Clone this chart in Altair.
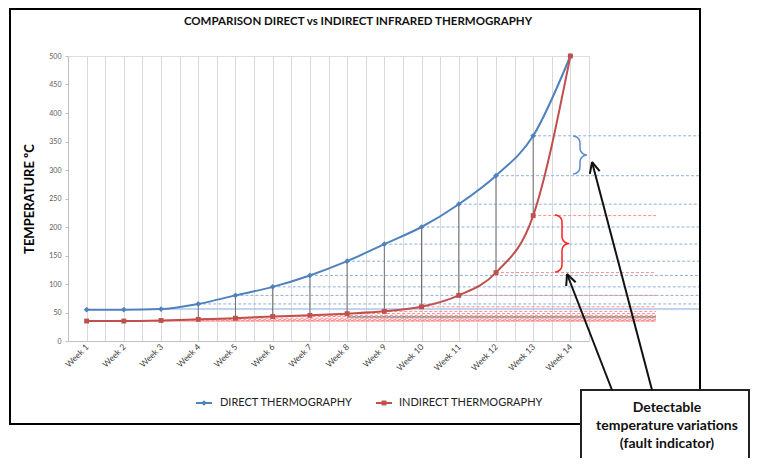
import json
import math
import altair as alt
import pandas as pd

# ---------------- data ----------------
weeks = list(range(1, 15))
week_labels = [f"Week {i}" for i in weeks]
direct = [55, 55, 56, 65, 80, 95, 115, 140, 170, 200, 240, 290, 360, 500]
indirect = [35, 35, 36, 38, 40, 43, 45, 48, 52, 60, 80, 120, 220, 500]
y_ticks = list(range(0, 501, 50))
series_names = ["DIRECT THERMOGRAPHY", "INDIRECT THERMOGRAPHY"]
note_lines = ["Detectable", "temperature variations", "(fault indicator)"]

# guide lines (dashed level markers) start at these weeks
blue_guide_weeks = list(range(4, 14))
red_guide_weeks = list(range(1, 14))
connector_weeks = list(range(4, 14))
baseline_level = 42

# ---------------- layout / style constants ----------------
W, H = 521, 285
PAD = {"left": 60, "top": 48, "right": 162, "bottom": 117}
OX, OY = 68, 56  # page position of plot origin
BLUE = "#4f81bd"
RED = "#c0504d"
BLUE_END = 17.5
RED_END = 16.3
FONT = "Lato"

xscale = alt.Scale(domain=[0.5, 14.5], nice=False, zero=False)
yscale = alt.Scale(domain=[0, 500], nice=False)
half_steps = [0.5 + 0.5 * i for i in range(29)]
label_expr = f"datum.value % 1 == 0 ? {json.dumps(week_labels)}[datum.value - 1] : ''"
xaxis = alt.Axis(values=half_steps, labelExpr=label_expr, grid=True, gridColor="#d9d9d9",
                 gridWidth=1, ticks=False, labelAngle=-45, labelAlign="right",
                 labelBaseline="middle", labelPadding=4, labelOverlap=False, labelFlush=False,
                 labelFontSize=8.5, labelColor="#404040", labelFont=FONT,
                 domainColor="#bfbfbf", title=None)
yaxis = alt.Axis(values=y_ticks, grid=False, labelFontSize=7, labelColor="#595959",
                 labelFont=FONT, tickSize=3, tickColor="#bfbfbf", domainColor="#bfbfbf",
                 labelPadding=4, title="TEMPERATURE ºC", titleFont=FONT, titleFontSize=13,
                 titleFontWeight="bold", titleColor="black", titlePadding=12)


def X(field):
    return alt.X(field, type="quantitative", scale=xscale, axis=xaxis)


def Y(field):
    return alt.Y(field, type="quantitative", scale=yscale, axis=yaxis)


df = pd.DataFrame({"week": weeks, "direct": direct, "indirect": indirect})
long = pd.DataFrame({
    "week": weeks + weeks,
    "value": direct + indirect,
    "series": [series_names[0]] * 14 + [series_names[1]] * 14,
})

# guide lines
blue_g = pd.DataFrame({"x": blue_guide_weeks,
                       "x2": [BLUE_END] * len(blue_guide_weeks),
                       "y": [direct[w - 1] for w in blue_guide_weeks]})
red_g = pd.DataFrame({"x": red_guide_weeks,
                      "x2": [RED_END] * len(red_guide_weeks),
                      "y": [indirect[w - 1] for w in red_guide_weeks]})
solid_g = pd.DataFrame({"x": [3], "x2": [BLUE_END], "y": [direct[2]]})
base_g = pd.DataFrame({"x": [8], "x2": [RED_END], "y": [baseline_level]})
conn = pd.DataFrame({"x": connector_weeks,
                     "y": [indirect[w - 1] for w in connector_weeks],
                     "y2": [direct[w - 1] for w in connector_weeks]})

blue_layer = alt.Chart(blue_g).mark_rule(color="#8fb0dc", strokeDash=[3, 2], strokeWidth=1).encode(
    x=X("x"), x2="x2", y=Y("y"))
red_layer = alt.Chart(red_g).mark_rule(color="#ff8a8a", strokeDash=[3, 2], strokeWidth=1).encode(
    x=X("x"), x2="x2", y=Y("y"))
solid_layer = alt.Chart(solid_g).mark_rule(color="#a9c6ea", strokeWidth=1.5).encode(
    x=X("x"), x2="x2", y=Y("y"))
base_layer = alt.Chart(base_g).mark_rule(color="#707070", strokeWidth=1).encode(
    x=X("x"), x2="x2", y=Y("y"))
conn_layer = alt.Chart(conn).mark_rule(color="#707070", strokeWidth=1).encode(
    x=X("x"), y=Y("y"), y2="y2")

color_scale = alt.Scale(domain=series_names, range=[BLUE, RED])
lines = alt.Chart(long).mark_line(interpolate="monotone", strokeWidth=2).encode(
    x=X("week"), y=Y("value"),
    color=alt.Color("series:N", scale=color_scale, legend=None))
pts_d = alt.Chart(df).mark_point(shape="diamond", filled=True, size=32, color=BLUE, opacity=1).encode(
    x=X("week"), y=Y("direct"))
pts_i = alt.Chart(df).mark_point(shape="square", filled=True, size=24, color=RED, opacity=1).encode(
    x=X("week"), y=Y("indirect"))


# braces (annotation shapes): built in page pixels, converted to data units
def to_data(pxx, pyy):
    return (pxx - OX) / (W / 14) + 0.5, (OY + H - pyy) / H * 500


def brace(xl, r, T, B):
    M = (T + B) / 2
    xm = xl + r
    pts = []
    n = 6
    for k in range(n + 1):
        t = math.radians(90 * k / n)
        pts.append((xl + r * math.sin(t), T + r - r * math.cos(t)))
    for k in range(n + 1):
        t = math.radians(90 * k / n)
        pts.append((xm + r - r * math.cos(t), M - r + r * math.sin(t)))
    for k in range(n + 1):
        t = math.radians(90 - 90 * k / n)
        pts.append((xm + r - r * math.cos(t), M + r - r * math.sin(t)))
    for k in range(n + 1):
        t = math.radians(90 * k / n)
        pts.append((xl + r * math.cos(t), B - r + r * math.sin(t)))
    xs, ys = zip(*[to_data(a, b) for a, b in pts])
    return pd.DataFrame({"bx": xs, "by": ys, "i": list(range(len(pts)))})


brace_b = alt.Chart(brace(573, 7, 136, 174)).mark_line(color="#5b8bd0", strokeWidth=1.5).encode(
    x=X("bx"), y=Y("by"), order="i:Q")
brace_r = alt.Chart(brace(555, 7, 215, 272)).mark_line(color="#ff2020", strokeWidth=1.5).encode(
    x=X("bx"), y=Y("by"), order="i:Q")

one = pd.DataFrame({"a": [0]})


def px(v):
    return alt.value(v - OX)


def py(v):
    return alt.value(v - OY)


frame = alt.Chart(one).mark_rect(fillOpacity=0, stroke="black", strokeWidth=2).encode(
    x=px(10), x2=px(700), y=py(9), y2=py(424))
box = alt.Chart(one).mark_rect(fill="white", stroke="#222", strokeWidth=2).encode(
    x=px(581), x2=px(749), y=py(390), y2=py(480))


def arrow_layers(tail, head, arm=12, ang=25):
    tx, ty = tail
    hx, hy = head
    dx, dy = tx - hx, ty - hy
    L = math.hypot(dx, dy)
    ux, uy = dx / L, dy / L
    out = [alt.Chart(one).mark_rule(color="#111", strokeWidth=2).encode(
        x=px(tx), y=py(ty), x2=px(hx), y2=py(hy))]
    for s in (1, -1):
        a = math.radians(ang * s)
        rx = ux * math.cos(a) - uy * math.sin(a)
        ry = ux * math.sin(a) + uy * math.cos(a)
        out.append(alt.Chart(one).mark_rule(color="#111", strokeWidth=2).encode(
            x=px(hx), y=py(hy), x2=px(hx + rx * arm), y2=py(hy + ry * arm)))
    return out


arrows = arrow_layers((612, 390), (567, 274)) + arrow_layers((652, 390), (592, 162))

box_texts = [
    alt.Chart(one).mark_text(text=t, font=FONT, fontSize=14, fontWeight="bold", color="#111",
                             align="center", baseline="middle").encode(x=px(667), y=py(yy))
    for t, yy in zip(note_lines, [408, 426, 444])
]

title = alt.Chart(one).mark_text(
    text="COMPARISON DIRECT vs INDIRECT INFRARED THERMOGRAPHY",
    font=FONT, fontSize=11.5, fontWeight="bold", color="#111", align="center",
    baseline="middle").encode(x=px(358), y=py(22))

# legend
leg_y = 403
leg = [
    alt.Chart(one).mark_rule(color=BLUE, strokeWidth=2).encode(x=px(196), x2=px(212), y=py(leg_y)),
    alt.Chart(one).mark_point(shape="diamond", filled=True, size=32, color=BLUE, opacity=1).encode(
        x=px(204), y=py(leg_y)),
    alt.Chart(one).mark_text(text=series_names[0], font=FONT, fontSize=11, color="#222",
                             align="left", baseline="middle").encode(x=px(220), y=py(leg_y)),
    alt.Chart(one).mark_rule(color=RED, strokeWidth=2).encode(x=px(376), x2=px(392), y=py(leg_y)),
    alt.Chart(one).mark_point(shape="square", filled=True, size=24, color=RED, opacity=1).encode(
        x=px(384), y=py(leg_y)),
    alt.Chart(one).mark_text(text=series_names[1], font=FONT, fontSize=11, color="#222",
                             align="left", baseline="middle").encode(x=px(399), y=py(leg_y)),
]

chart = alt.layer(
    red_layer, blue_layer, solid_layer, base_layer, conn_layer,
    lines, pts_d, pts_i, brace_b, brace_r,
    frame, box, *arrows, *box_texts, title, *leg
).properties(
    width=W, height=H,
    autosize=alt.AutoSizeParams(type="none"),
    padding=PAD,
).configure_view(stroke=None).configure(background="white")

chart.save("out.html", embed_options={"renderer": "svg", "actions": False})
